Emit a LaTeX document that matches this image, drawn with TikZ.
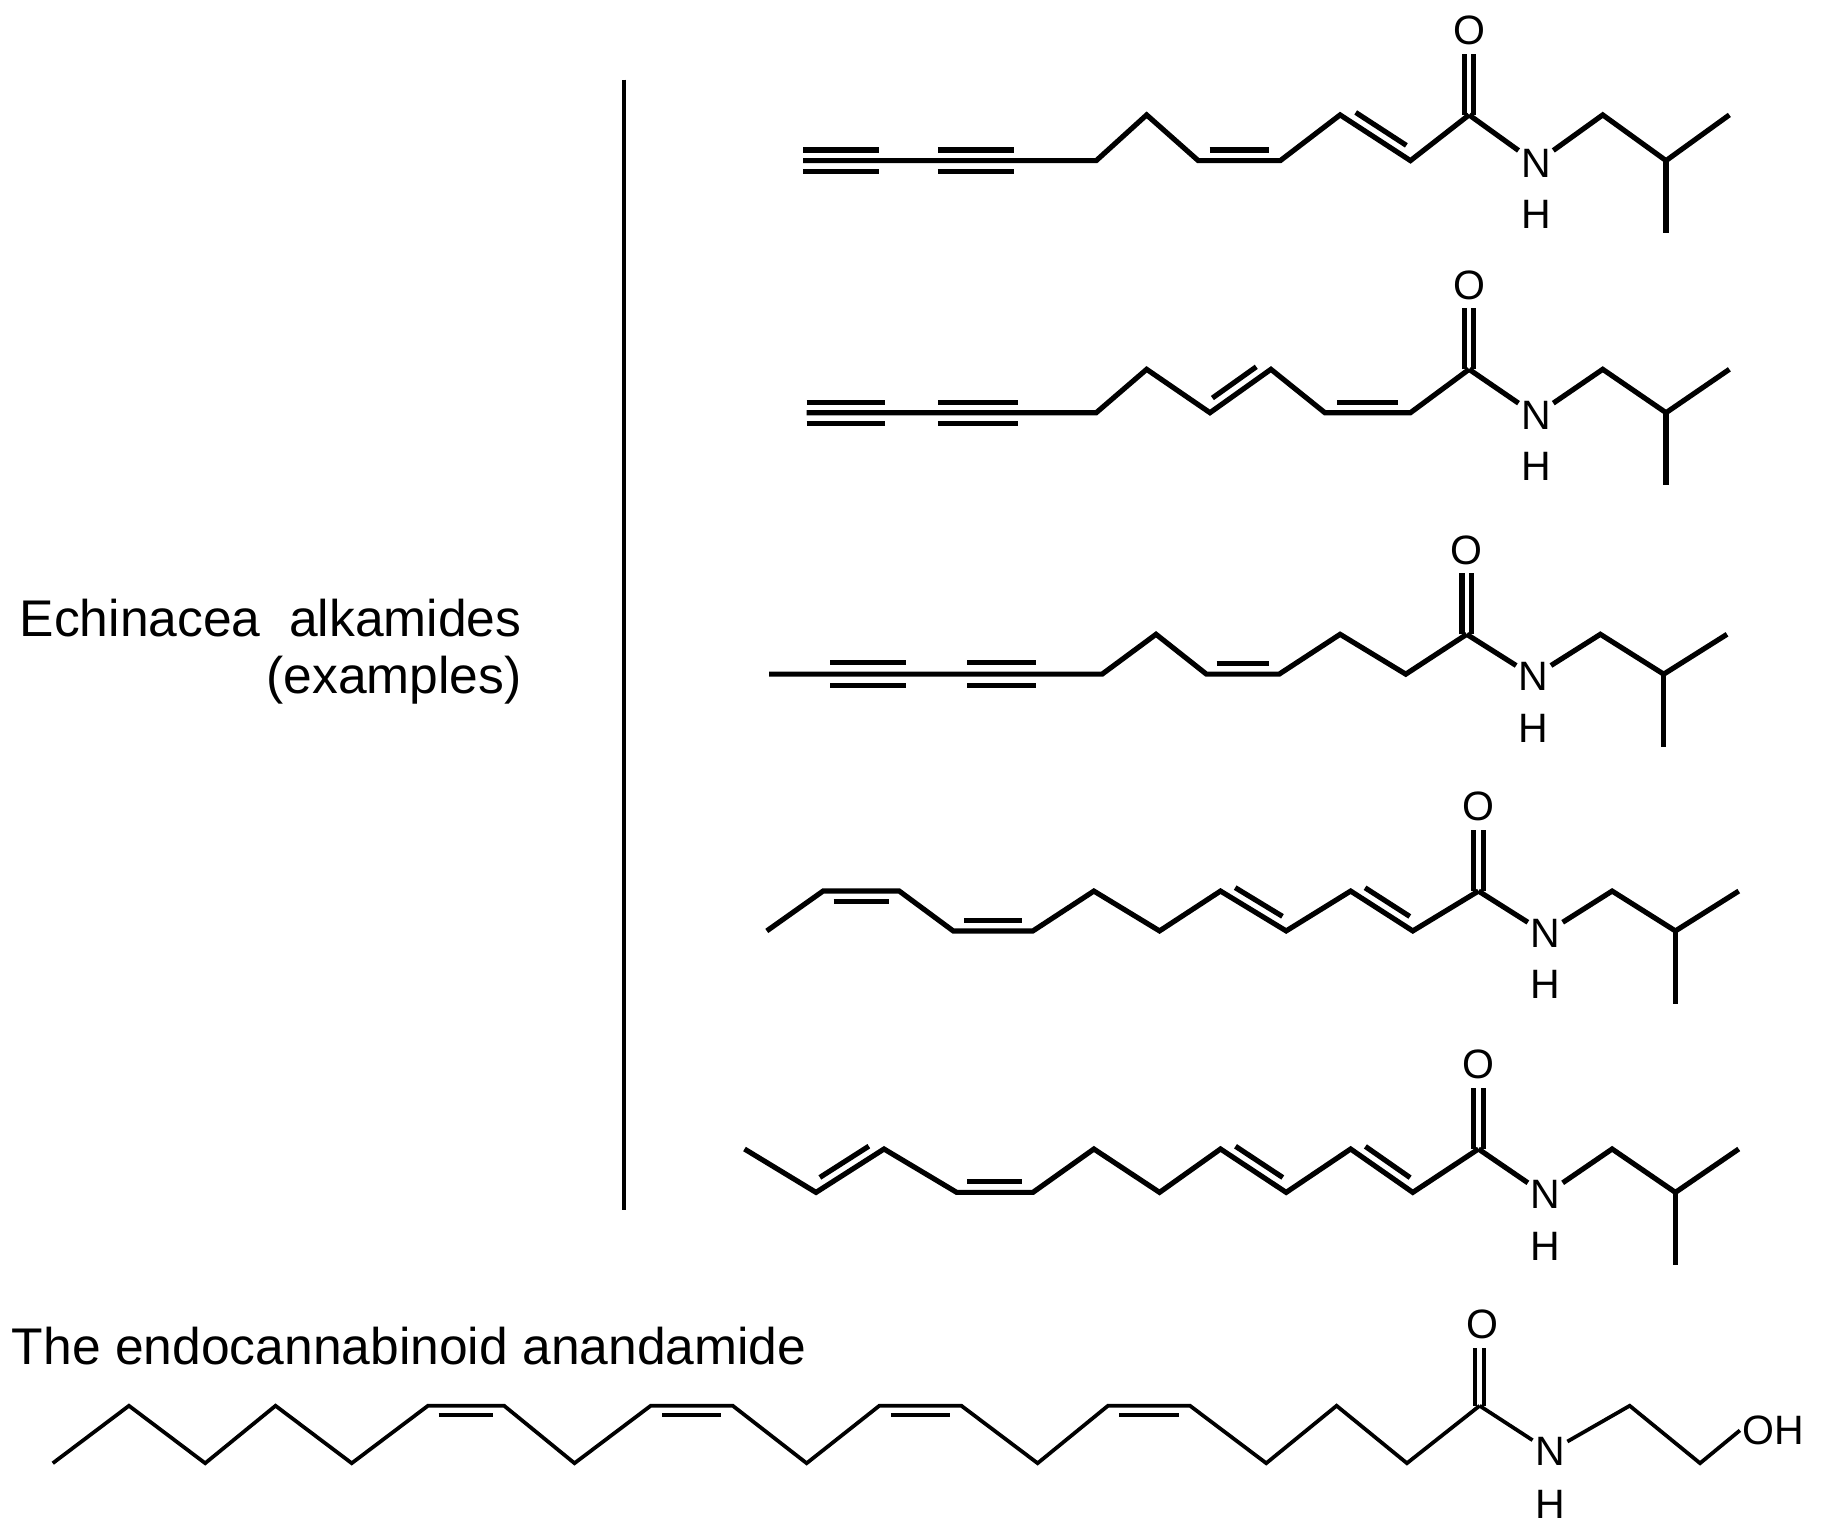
\documentclass[tikz,border=0pt]{standalone}
\usepackage{fontspec}
\setmainfont{Liberation Sans}
\usetikzlibrary{calc}
\tikzset{bond/.style={line width=4.4pt,line join=miter,line cap=butt},
 atom/.style={inner sep=2pt,font=\fontsize{35}{35}\selectfont},
 lbl/.style={font=\fontsize{44}{48}\selectfont,inner sep=0pt}}
% inner line of a double bond: #1,#2 end points, #3 offset (with unit)
\newcommand\dbl[3]{\draw[bond] ($(#1)!.14!(#2)!#3!90:(#2)$) -- ($(#2)!.14!(#1)!#3!-90:(#1)$);}
% amide part: #1 carbonyl x, #2 low y, #3 high y, #4 name
\newcommand\amide[4]{
 \coordinate (#4C) at (#1,#3);
 \node[atom] (#4N) at ({#1+57},{#2+2}) {N};
 \node[atom] (#4H) at ({#1+57},{#2+46}) {H};
 \node[atom] (#4O) at ({#1},{#3-72}) {O};
 \draw[bond] ({#1-4},{#3}) -- ({#1-4},{#3-52});
 \draw[bond] ({#1+4},{#3}) -- ({#1+4},{#3-52});
 \draw[bond] (#4C) -- (#4N);
 \draw[bond] (#4N) -- ({#1+114},{#3}) -- ({#1+168},{#2}) -- ({#1+222},{#3});
 \draw[bond] ({#1+168},{#2}) -- ({#1+168},{#2+62});
}
\begin{document}
\begin{tikzpicture}[x=1pt,y=-1pt]
\useasboundingbox (0,0) rectangle (1560,1312);
\node[lbl,anchor=east] (t1) at (445,527) {Echinacea\ \ alkamides};
\node[lbl,anchor=east] (t2) at (445,580) {(examples)};
\draw[line width=3pt] (532,68) -- (532,1032);
% molecule 1
\draw[bond] (685,137)--(935,137)--(978,98)--(1022,137)--(1092,137)--(1143,98)--(1203,137)--(1253,98);
\draw[bond] (685,128)--(750,128) (685,146)--(750,146) (800,128)--(865,128) (800,146)--(865,146);
\coordinate (a1) at (1022,137); \coordinate (a2) at (1092,137); \dbl{a1}{a2}{9pt}
\coordinate (a3) at (1143,98); \coordinate (a4) at (1203,137); \dbl{a3}{a4}{9pt}
\amide{1253}{137}{98}{m1}
% molecule 2
\draw[bond] (688,352)--(935,352)--(978,315)--(1032,352)--(1084,315)--(1130,352)--(1203,352)--(1253,315);
\draw[bond] (688,343)--(755,343) (688,361)--(755,361) (800,343)--(868,343) (800,361)--(868,361);
\coordinate (b1) at (1032,352); \coordinate (b2) at (1084,315); \dbl{b1}{b2}{9pt}
\coordinate (b3) at (1130,352); \coordinate (b4) at (1203,352); \dbl{b3}{b4}{9pt}
\amide{1253}{352}{315}{m2}
% molecule 3
\draw[bond] (656,575)--(940,575)--(986,541)--(1029,575)--(1091,575)--(1143,541)--(1199,575)--(1251,541);
\draw[bond] (708,565)--(773,565) (708,585)--(773,585) (825,565)--(884,565) (825,585)--(884,585);
\coordinate (c1) at (1029,575); \coordinate (c2) at (1091,575); \dbl{c1}{c2}{9pt}
\amide{1251}{575}{541}{m3}
% molecule 4
\draw[bond] (654,794)--(702,760)--(767,760)--(813,794)--(881,794)--(933,760)--(989,794)--(1041,760)--(1097,794)--(1152,760)--(1205,794)--(1261,760);
\coordinate (d1) at (702,760); \coordinate (d2) at (767,760); \dbl{d1}{d2}{-9pt}
\coordinate (d3) at (813,794); \coordinate (d4) at (881,794); \dbl{d3}{d4}{9pt}
\coordinate (d5) at (1041,760); \coordinate (d6) at (1097,794); \dbl{d5}{d6}{9pt}
\coordinate (d7) at (1152,760); \coordinate (d8) at (1205,794); \dbl{d7}{d8}{9pt}
\amide{1261}{794}{760}{m4}
% molecule 5
\draw[bond] (635,980)--(696,1017)--(754,980)--(816,1017)--(881,1017)--(933,980)--(989,1017)--(1041,980)--(1097,1017)--(1152,980)--(1205,1017)--(1261,980);
\coordinate (e1) at (696,1017); \coordinate (e2) at (754,980); \dbl{e1}{e2}{9pt}
\coordinate (e3) at (816,1017); \coordinate (e4) at (881,1017); \dbl{e3}{e4}{9pt}
\coordinate (e5) at (1041,980); \coordinate (e6) at (1097,1017); \dbl{e5}{e6}{9pt}
\coordinate (e7) at (1152,980); \coordinate (e8) at (1205,1017); \dbl{e7}{e8}{9pt}
\amide{1261}{1017}{980}{m5}
% anandamide
\node[lbl,anchor=west] (t3) at (10,1148) {\fontsize{44}{46}\selectfont The endocannabinoid anandamide};
\begin{scope}[bond/.append style={line width=3.2pt}]
\draw[bond] (45,1248)--(110,1199)--(175,1248)--(235,1199)--(300,1248)--(365,1199)--(430,1199)--(490,1248)--(555,1199)--(625,1199)--(688,1248)--(750,1199)--(820,1199)--(885,1248)--(945,1199)--(1015,1199)--(1080,1248)--(1140,1199)--(1200,1248)--(1262,1199);
\coordinate (f1) at (365,1199); \coordinate (f2) at (430,1199); \dbl{f1}{f2}{-8pt}
\coordinate (f3) at (555,1199); \coordinate (f4) at (625,1199); \dbl{f3}{f4}{-8pt}
\coordinate (f5) at (750,1199); \coordinate (f6) at (820,1199); \dbl{f5}{f6}{-8pt}
\coordinate (f7) at (945,1199); \coordinate (f8) at (1015,1199); \dbl{f7}{f8}{-8pt}
\coordinate (fC) at (1262,1199);
\node[atom] (fO) at (1264,1130) {O};
\node[atom] (fN) at (1322,1238) {N};
\node[atom] (fH) at (1322,1283) {H};
\node[atom,anchor=west] (fOH) at (1484,1220) {OH};
\draw[bond] (1258,1199) -- (1258,1150) (1266,1199) -- (1266,1150);
\draw[bond] (fC) -- (fN);
\draw[bond] (fN) -- (1390,1199) -- (1450,1248) -- (fOH.west);
\end{scope}
\end{tikzpicture}
\end{document}
